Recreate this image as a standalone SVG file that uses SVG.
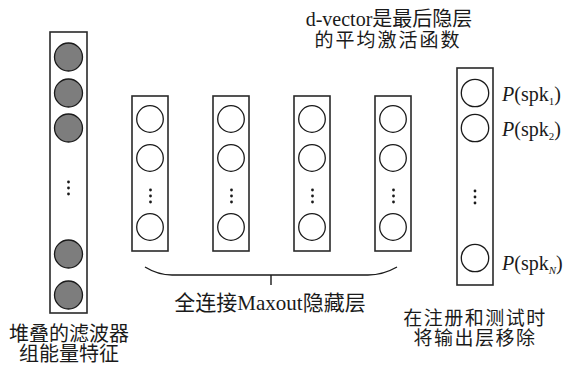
<svg xmlns="http://www.w3.org/2000/svg" width="566" height="365" viewBox="0 0 566 365">
<style>
.box{fill:#fff;stroke:#2a2a2a;stroke-width:1.6}
.n{fill:#fff;stroke:#1a1a1a;stroke-width:1.3}
.g{fill:#7d7d7d;stroke:#1a1a1a;stroke-width:1.3}
.dot{fill:#1a1a1a}
.t{font-family:"Liberation Serif","Noto Sans CJK SC",serif;fill:#1a1a1a;text-anchor:middle}
.p{font-family:"Liberation Serif",serif;font-size:20px;fill:#1a1a1a}
.br{fill:none;stroke:#1a1a1a;stroke-width:1.4}
</style>
<rect width="566" height="365" fill="#fff"/>
<g id="input">
<rect class="box" x="50" y="32" width="37" height="281"/>
<circle class="g" cx="68.5" cy="57" r="14"/>
<circle class="g" cx="68.5" cy="93" r="14"/>
<circle class="g" cx="68.5" cy="128" r="14"/>
<circle class="dot" cx="68.5" cy="182" r="1.4"/>
<circle class="dot" cx="68.5" cy="188" r="1.4"/>
<circle class="dot" cx="68.5" cy="194" r="1.4"/>
<circle class="g" cx="68.5" cy="254" r="14"/>
<circle class="g" cx="68.5" cy="295" r="14"/>
</g>
<g id="hidden1">
<rect class="box" x="132" y="96" width="36" height="155"/>
<circle class="n" cx="150" cy="119" r="13.3"/>
<circle class="n" cx="150" cy="158" r="13.3"/>
<circle class="dot" cx="150.5" cy="190" r="1.4"/>
<circle class="dot" cx="150.5" cy="196" r="1.4"/>
<circle class="dot" cx="150.5" cy="202" r="1.4"/>
<circle class="n" cx="150" cy="227" r="13.3"/>
</g>
<g id="hidden2">
<rect class="box" x="213" y="96" width="36" height="155"/>
<circle class="n" cx="231" cy="119" r="13.3"/>
<circle class="n" cx="231" cy="158" r="13.3"/>
<circle class="dot" cx="231.5" cy="190" r="1.4"/>
<circle class="dot" cx="231.5" cy="196" r="1.4"/>
<circle class="dot" cx="231.5" cy="202" r="1.4"/>
<circle class="n" cx="231" cy="227" r="13.3"/>
</g>
<g id="hidden3">
<rect class="box" x="294" y="96" width="36" height="155"/>
<circle class="n" cx="312" cy="119" r="13.3"/>
<circle class="n" cx="312" cy="158" r="13.3"/>
<circle class="dot" cx="312.5" cy="190" r="1.4"/>
<circle class="dot" cx="312.5" cy="196" r="1.4"/>
<circle class="dot" cx="312.5" cy="202" r="1.4"/>
<circle class="n" cx="312" cy="227" r="13.3"/>
</g>
<g id="hidden4">
<rect class="box" x="375" y="96" width="36" height="155"/>
<circle class="n" cx="393" cy="119" r="13.3"/>
<circle class="n" cx="393" cy="158" r="13.3"/>
<circle class="dot" cx="393.5" cy="190" r="1.4"/>
<circle class="dot" cx="393.5" cy="196" r="1.4"/>
<circle class="dot" cx="393.5" cy="202" r="1.4"/>
<circle class="n" cx="393" cy="227" r="13.3"/>
</g>
<g id="output">
<rect class="box" x="457" y="68" width="36" height="217"/>
<circle class="n" cx="475" cy="93" r="13.7"/>
<circle class="n" cx="475" cy="128" r="13.7"/>
<circle class="dot" cx="475" cy="191" r="1.4"/>
<circle class="dot" cx="475" cy="197" r="1.4"/>
<circle class="dot" cx="475" cy="203" r="1.4"/>
<circle class="n" cx="475" cy="258" r="13.7"/>
<text class="p" x="502" y="101"><tspan font-style="italic">P</tspan>(spk<tspan font-size="11" dy="4">1</tspan><tspan dy="-4">)</tspan></text>
<text class="p" x="502" y="136"><tspan font-style="italic">P</tspan>(spk<tspan font-size="11" dy="4">2</tspan><tspan dy="-4">)</tspan></text>
<text class="p" x="502" y="270"><tspan font-style="italic">P</tspan>(spk<tspan font-size="11" font-style="italic" dy="4">N</tspan><tspan dy="-4">)</tspan></text>
</g>
<g id="connectors">
<path class="br" d="M145 267 Q158 275 172 275 L368 275 Q383 275 397 267 M271 275 L271 285"/>
</g>
<g id="labels">
<text class="t" font-size="20" x="389" y="26">d-vector是最后隐层</text>
<text class="t" font-size="19" x="388" y="47" letter-spacing="2">的平均激活函数</text>
<text class="t" font-size="20" x="69" y="341">堆叠的滤波器</text>
<text class="t" font-size="20" x="69" y="361">组能量特征</text>
<text class="t" font-size="21" x="270" y="310">全连接Maxout隐藏层</text>
<text class="t" font-size="19" x="475" y="325" letter-spacing="1.5">在注册和测试时</text>
<text class="t" font-size="19" x="475" y="345" letter-spacing="1.5">将输出层移除</text>
</g>
</svg>
